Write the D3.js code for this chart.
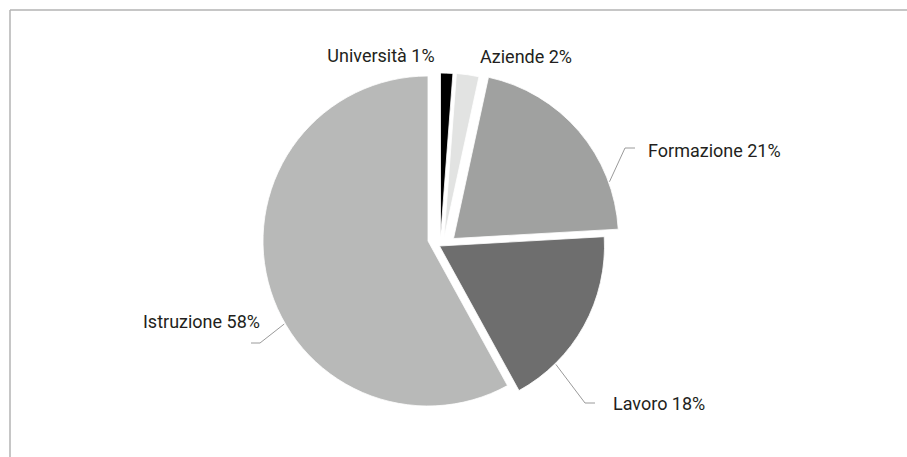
<!DOCTYPE html>
<html><head><meta charset="utf-8">
<script src="https://cdn.jsdelivr.net/npm/d3@7"></script>
<style>html,body{margin:0;padding:0;background:#fff;} svg{display:block;}</style>
</head><body><svg id="chart" width="907" height="457"></svg>
<script>
// ---- data ----
const categories = ["Università", "Aziende", "Formazione", "Lavoro", "Istruzione"];
const values = [1.2, 2.2, 20.7, 17.9, 58.0];
const colors = ["#000000", "#e2e3e2", "#a0a1a0", "#6e6e6e", "#b8b9b8"];

// ---- layout ----
const W = 907, H = 457;
const center = [428, 240];
const radius = 165;
const explode = [[12.5, -2], [16, -2], [25.5, -1.5], [11.5, 6], [0, 1]];
const labelLayout = [
  {leader: false, x: 381, y: 62, anchor: "middle"},
  {leader: false, x: 526, y: 63, anchor: "middle"},
  {leader: true, attach: 70, x: 648, y: 157, anchor: "start", elbow: [-23, -9], end: [-13, -9]},
  {leader: true, attach: 135.5, x: 613, y: 410, anchor: "start", elbow: [-28, -7], end: [-18, -7]},
  {leader: true, attach: 240, x: 260, y: 328, anchor: "end", elbow: [0, 15], end: [-9, 15]}
];

const svg = d3.select("#chart");
svg.append("rect").attr("width", W).attr("height", H).attr("fill", "#fff");

// frame (top & left)
svg.append("line").attr("x1", 10).attr("y1", 10).attr("x2", W).attr("y2", 10)
  .attr("stroke", "#b3b3b3").attr("stroke-width", 1.5);
svg.append("line").attr("x1", 10).attr("y1", 10).attr("x2", 10).attr("y2", H)
  .attr("stroke", "#b3b3b3").attr("stroke-width", 1.5);

const pie = d3.pie().sort(null).value(d => d).startAngle(0).endAngle(2 * Math.PI);
const arcs = pie(values);
const arc = d3.arc().innerRadius(0).outerRadius(radius);

const g = svg.append("g");
g.selectAll("path").data(arcs).join("path")
  .attr("transform", (d, i) => `translate(${center[0] + explode[i][0]},${center[1] + explode[i][1]})`)
  .attr("d", arc)
  .attr("fill", (d, i) => colors[i])
  .attr("stroke", "#fff").attr("stroke-width", 0.8);

// leader lines
arcs.forEach((d, i) => {
  const L = labelLayout[i];
  if (!L.leader) return;
  const a = L.attach * Math.PI / 180;
  const ax = center[0] + explode[i][0] + (radius + 1) * Math.sin(a);
  const ay = center[1] + explode[i][1] - (radius + 1) * Math.cos(a);
  const pts = [[ax, ay], [L.x + L.elbow[0], L.y + L.elbow[1]], [L.x + L.end[0], L.y + L.end[1]]];
  svg.append("path").attr("d", d3.line()(pts))
    .attr("fill", "none").attr("stroke", "#9a9a9a").attr("stroke-width", 1);
});

// labels
svg.selectAll("text.lbl").data(arcs).join("text").attr("class", "lbl")
  .attr("x", (d, i) => labelLayout[i].x)
  .attr("y", (d, i) => labelLayout[i].y)
  .attr("text-anchor", (d, i) => labelLayout[i].anchor)
  .attr("font-family", "Roboto, 'Liberation Sans', sans-serif")
  .attr("font-size", 18)
  .attr("fill", "#231f20")
  .text((d, i) => `${categories[i]} ${Math.round(values[i])}%`);
</script>
</body></html>
